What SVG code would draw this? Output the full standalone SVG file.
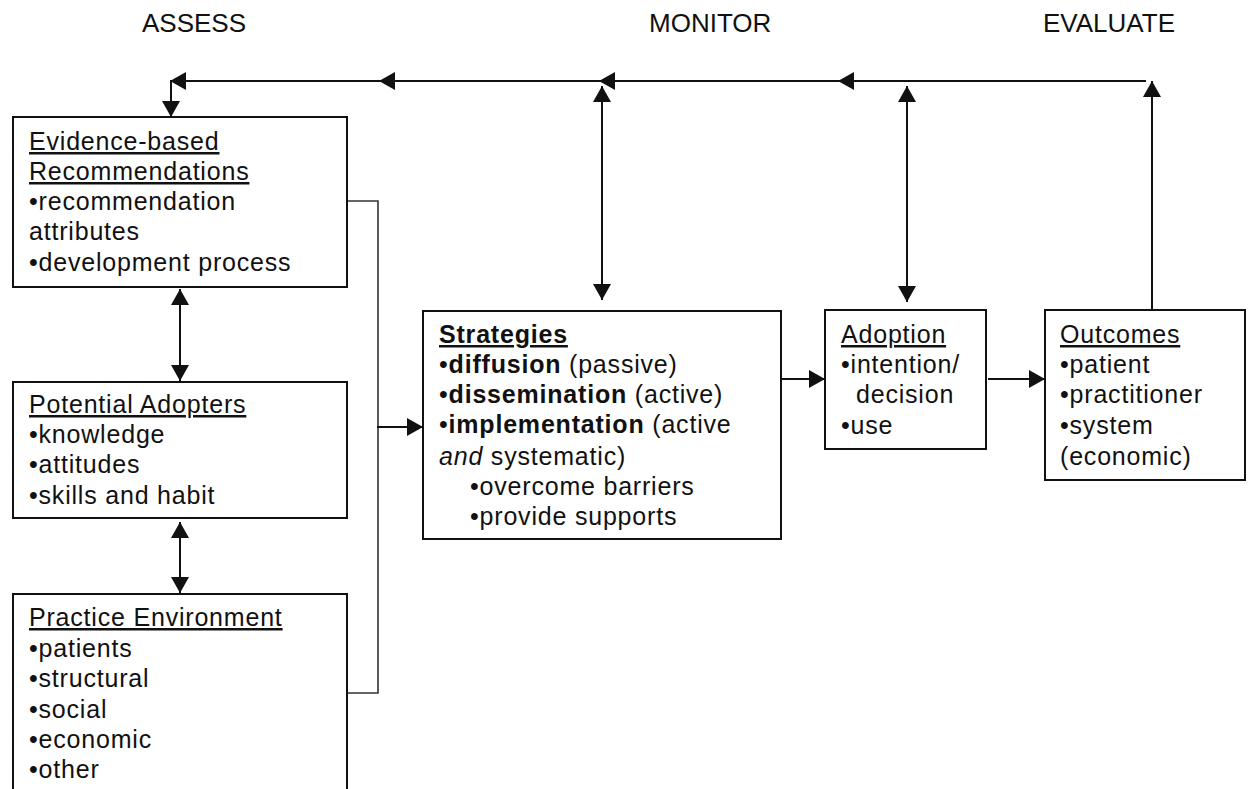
<svg xmlns="http://www.w3.org/2000/svg" width="1248" height="789" viewBox="0 0 1248 789">
<style>
.box{fill:#fff;stroke:#111;stroke-width:2}
.t{font-family:"Liberation Sans",Arial,sans-serif;font-size:25px;letter-spacing:0.8px;fill:#111}
.h{font-family:"Liberation Sans",Arial,sans-serif;font-size:26px;fill:#111}
.u{text-decoration:underline}
.b{font-weight:bold}
.i{font-style:italic}
.ln{stroke:#111;stroke-width:2;fill:none}
.br{stroke:#333;stroke-width:1.6;fill:none}
</style>
<defs>
<marker id="ah" viewBox="0 0 16 18" refX="16" refY="9" markerWidth="16" markerHeight="18" markerUnits="userSpaceOnUse" orient="auto-start-reverse">
<path d="M0,0 L16,9 L0,18 Z" fill="#111"/>
</marker>
</defs>
<g id="headers">
<text class="h" x="142" y="32">ASSESS</text>
<text class="h" x="649" y="32">MONITOR</text>
<text class="h" x="1043" y="32">EVALUATE</text>
</g>
<g id="connectors">
<!-- top feedback line -->
<line class="ln" x1="1146" y1="81" x2="838" y2="81" marker-end="url(#ah)"/>
<line class="ln" x1="840" y1="81" x2="599" y2="81" marker-end="url(#ah)"/>
<line class="ln" x1="601" y1="81" x2="379" y2="81" marker-end="url(#ah)"/>
<line class="ln" x1="381" y1="81" x2="170" y2="81" marker-end="url(#ah)"/>
<line class="ln" x1="171" y1="81" x2="171" y2="117" marker-end="url(#ah)"/>
<!-- outcomes up -->
<line class="ln" x1="1152" y1="310" x2="1152" y2="81" marker-end="url(#ah)"/>
<!-- monitor bidirectional -->
<line class="ln" x1="602" y1="86" x2="602" y2="300" marker-start="url(#ah)" marker-end="url(#ah)"/>
<line class="ln" x1="907" y1="86" x2="907" y2="302" marker-start="url(#ah)" marker-end="url(#ah)"/>
<!-- left bidirectional -->
<line class="ln" x1="180" y1="289" x2="180" y2="381" marker-start="url(#ah)" marker-end="url(#ah)"/>
<line class="ln" x1="180" y1="522" x2="180" y2="593" marker-start="url(#ah)" marker-end="url(#ah)"/>
<!-- bracket -->
<polyline class="br" points="347,201 378,201 378,693 347,693"/>
<line class="ln" x1="377" y1="427" x2="423" y2="427" marker-end="url(#ah)"/>
<!-- flow -->
<line class="ln" x1="781" y1="379" x2="825" y2="379" marker-end="url(#ah)"/>
<line class="ln" x1="988" y1="379" x2="1045" y2="379" marker-end="url(#ah)"/>
</g>
<g id="evidence">
<rect class="box" x="13" y="117" width="334" height="170"/>
<text class="t u" x="29" y="150">Evidence-based</text>
<text class="t u" x="29" y="180">Recommendations</text>
<text class="t" x="29" y="210">•recommendation</text>
<text class="t" x="29" y="240">attributes</text>
<text class="t" x="29" y="271">•development process</text>
</g>
<g id="adopters">
<rect class="box" x="13" y="382" width="334" height="136"/>
<text class="t u" x="29" y="413">Potential Adopters</text>
<text class="t" x="29" y="443">•knowledge</text>
<text class="t" x="29" y="473">•attitudes</text>
<text class="t" x="29" y="504">•skills and habit</text>
</g>
<g id="environment">
<rect class="box" x="13" y="594" width="334" height="220"/>
<text class="t u" x="29" y="626">Practice Environment</text>
<text class="t" x="29" y="657">•patients</text>
<text class="t" x="29" y="687">•structural</text>
<text class="t" x="29" y="718">•social</text>
<text class="t" x="29" y="748">•economic</text>
<text class="t" x="29" y="778">•other</text>
</g>
<g id="strategies">
<rect class="box" x="423" y="311" width="358" height="228"/>
<text class="t b u" x="439" y="343">Strategies</text>
<text class="t" x="439" y="373">•<tspan class="b">diffusion</tspan> (passive)</text>
<text class="t" x="439" y="403">•<tspan class="b">dissemination</tspan> (active)</text>
<text class="t" x="439" y="433">•<tspan class="b">implementation</tspan> (active</text>
<text class="t" x="439" y="465"><tspan class="i">and</tspan> systematic)</text>
<text class="t" x="470" y="495">•overcome barriers</text>
<text class="t" x="470" y="525">•provide supports</text>
</g>
<g id="adoption">
<rect class="box" x="825" y="310" width="161" height="139"/>
<text class="t u" x="841" y="343">Adoption</text>
<text class="t" x="841" y="373">•intention/</text>
<text class="t" x="856" y="403">decision</text>
<text class="t" x="841" y="434">•use</text>
</g>
<g id="outcomes">
<rect class="box" x="1045" y="310" width="200" height="170"/>
<text class="t u" x="1060" y="343">Outcomes</text>
<text class="t" x="1060" y="373">•patient</text>
<text class="t" x="1060" y="403">•practitioner</text>
<text class="t" x="1060" y="434">•system</text>
<text class="t" x="1060" y="465">(economic)</text>
</g>
</svg>
